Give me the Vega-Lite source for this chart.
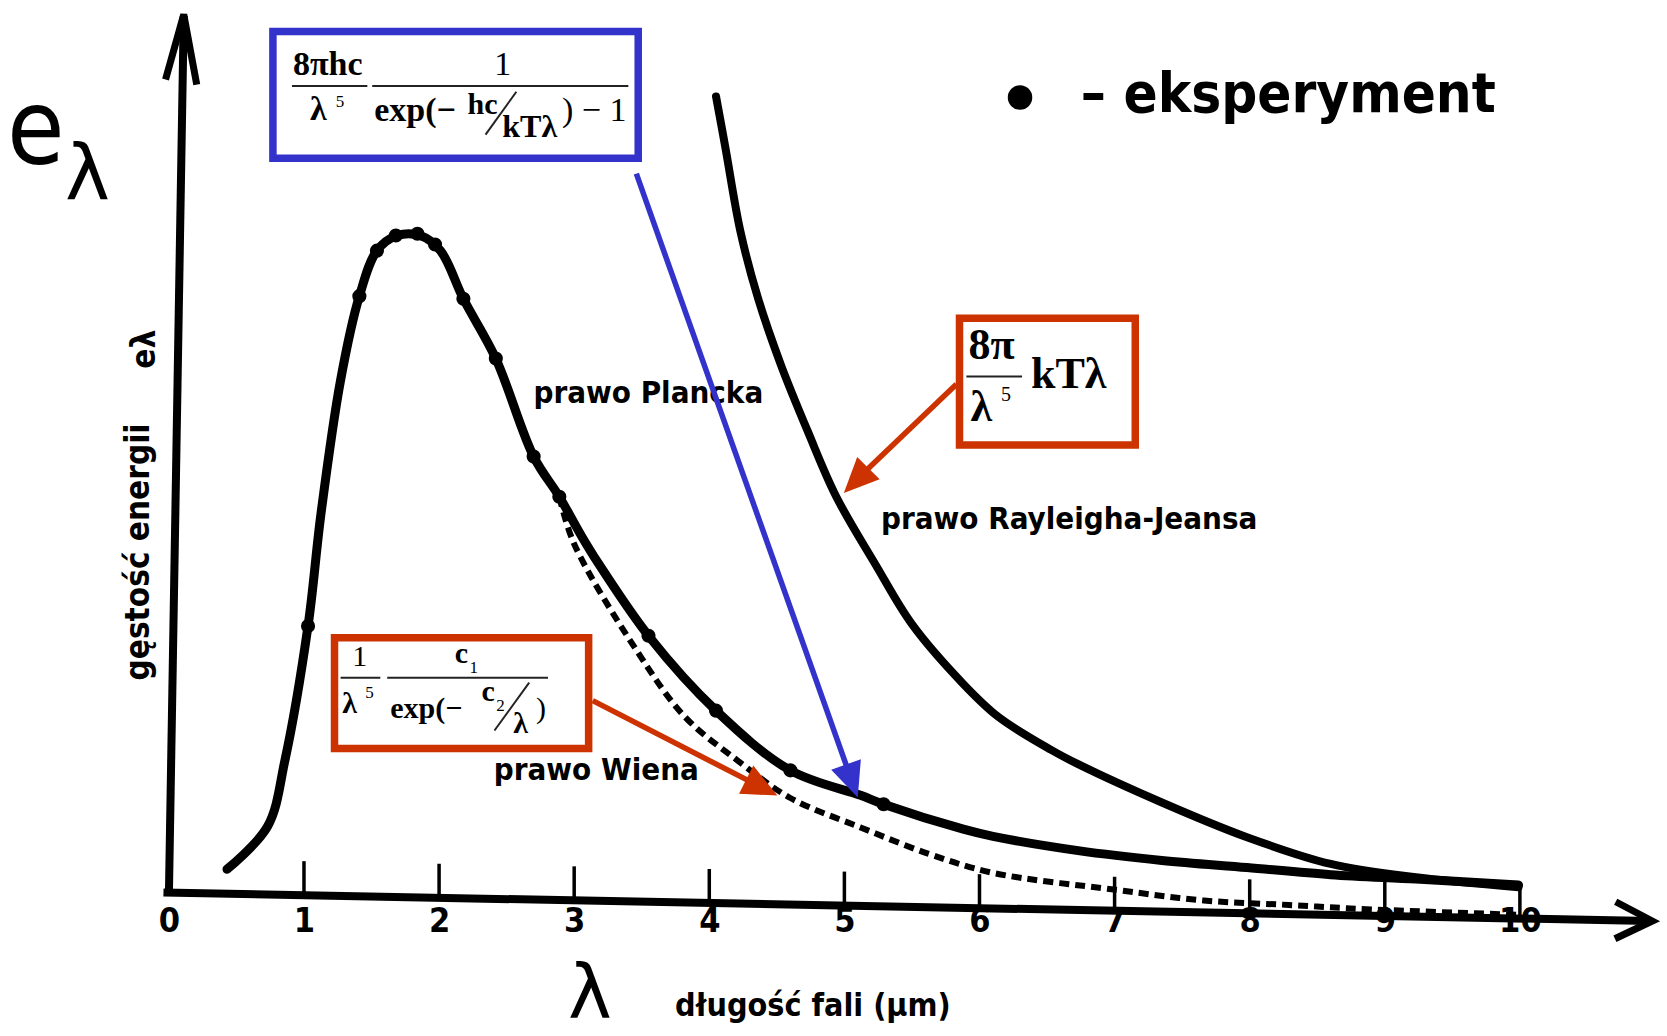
{
  "$schema": "https://vega.github.io/schema/vega-lite/v6.json",
  "width": 1667,
  "height": 1036,
  "autosize": {"type": "fit", "contains": "padding"},
  "padding": 0,
  "background": "white",
  "config": {"view": {"stroke": null}},
  "datasets": {
    "planck": [
      {"lam": 0.43, "e": 0.27}, {"lam": 0.73, "e": 0.75}, {"lam": 0.86, "e": 1.5}, {"lam": 1.03, "e": 3.0},
      {"lam": 1.125, "e": 4.25}, {"lam": 1.27, "e": 5.75}, {"lam": 1.41, "e": 6.7}, {"lam": 1.54, "e": 7.21},
      {"lam": 1.69, "e": 7.38}, {"lam": 1.86, "e": 7.38}, {"lam": 2.01, "e": 7.21}, {"lam": 2.18, "e": 6.67},
      {"lam": 2.42, "e": 6.0}, {"lam": 2.7, "e": 4.9}, {"lam": 2.89, "e": 4.45}, {"lam": 3.05, "e": 4.02},
      {"lam": 3.18, "e": 3.7}, {"lam": 3.56, "e": 2.87}, {"lam": 4.05, "e": 2.05}, {"lam": 4.6, "e": 1.38},
      {"lam": 5.12, "e": 1.1}, {"lam": 5.29, "e": 1.0}, {"lam": 5.88, "e": 0.72}, {"lam": 6.1, "e": 0.64},
      {"lam": 6.73, "e": 0.48}, {"lam": 7.35, "e": 0.37}, {"lam": 7.98, "e": 0.29}, {"lam": 8.6, "e": 0.21},
      {"lam": 9.23, "e": 0.16}, {"lam": 9.99, "e": 0.095}
    ],
    "experiment": [
      {"lam": 1.03, "e": 3.0}, {"lam": 1.41, "e": 6.7}, {"lam": 1.54, "e": 7.21}, {"lam": 1.68, "e": 7.38},
      {"lam": 1.84, "e": 7.4}, {"lam": 1.97, "e": 7.28}, {"lam": 2.18, "e": 6.67}, {"lam": 2.42, "e": 6.0},
      {"lam": 2.7, "e": 4.9}, {"lam": 2.89, "e": 4.45}, {"lam": 3.55, "e": 2.89}, {"lam": 4.05, "e": 2.05},
      {"lam": 4.6, "e": 1.38}, {"lam": 5.29, "e": 1.0}
    ],
    "wien": [
      {"lam": 2.89, "e": 4.45}, {"lam": 3.0, "e": 3.92}, {"lam": 3.46, "e": 2.73}, {"lam": 3.82, "e": 1.98},
      {"lam": 4.21, "e": 1.49}, {"lam": 4.6, "e": 1.07}, {"lam": 5.12, "e": 0.74}, {"lam": 5.63, "e": 0.44},
      {"lam": 6.1, "e": 0.23}, {"lam": 7.01, "e": 0.04}, {"lam": 7.66, "e": -0.08}, {"lam": 8.29, "e": -0.13},
      {"lam": 8.9, "e": -0.18}, {"lam": 9.99, "e": -0.24}
    ],
    "rj": [
      {"lam": 4.05, "e": 8.94}, {"lam": 4.12, "e": 8.36}, {"lam": 4.23, "e": 7.43}, {"lam": 4.36, "e": 6.68},
      {"lam": 4.53, "e": 5.93}, {"lam": 4.73, "e": 5.18}, {"lam": 4.94, "e": 4.45}, {"lam": 5.23, "e": 3.69},
      {"lam": 5.5, "e": 3.02}, {"lam": 5.88, "e": 2.35}, {"lam": 6.14, "e": 1.98}, {"lam": 6.53, "e": 1.61},
      {"lam": 6.73, "e": 1.45}, {"lam": 7.35, "e": 1.02}, {"lam": 7.98, "e": 0.63}, {"lam": 8.6, "e": 0.33},
      {"lam": 9.23, "e": 0.18}, {"lam": 9.99, "e": 0.07}
    ],
    "axes": [
      {"lam": -0.04, "e": 0.01, "lam2": 10.96, "e2": -0.31},
      {"lam": 0.0, "e": -0.03, "lam2": 0.11, "e2": 9.84}
    ],
    "xtip": [{"lam": 10.98, "e": -0.31}],
    "ytip": [{"lam": 0.11, "e": 9.86}],
    "ticks": [
      {"lam": 1, "e": -0.02}, {"lam": 2, "e": -0.049}, {"lam": 3, "e": -0.078}, {"lam": 4, "e": -0.108},
      {"lam": 5, "e": -0.137}, {"lam": 6, "e": -0.166}, {"lam": 7, "e": -0.195}, {"lam": 8, "e": -0.224},
      {"lam": 9, "e": -0.253}, {"lam": 10, "e": -0.282}
    ],
    "labels": [
      {"lam": 3.549, "e": 5.6, "t": "prawo Plancka"},
      {"lam": 6.664, "e": 4.189, "t": "prawo Rayleigha-Jeansa"},
      {"lam": 3.164, "e": 1.37, "t": "prawo Wiena"}
    ],
    "ylabel": [
      {"lam": -0.221, "e": 3.83, "t": "gęstość energii"},
      {"lam": -0.176, "e": 6.104, "t": "eλ"}
    ],
    "bigE": [{"lam": -0.985, "e": 8.186, "t": "e"}],
    "subLambda": [{"lam": -0.603, "e": 7.794, "t": "λ"}],
    "axisLambda": [{"lam": 3.116, "e": -1.399, "t": "λ"}],
    "xtitle": [{"lam": 3.747, "e": -1.376, "t": "długość fali (μm)"}],
    "legendDot": [{"lam": 6.3, "e": 8.929}],
    "legendText": [{"lam": 6.75, "e": 8.768, "t": "– eksperyment"}],
    "boxes": [
      {"law": "planck", "lam": 0.77, "e": 9.67, "lam2": 3.474, "e2": 8.248},
      {"law": "rj", "lam": 5.852, "e": 6.451, "lam2": 7.153, "e2": 5.029},
      {"law": "wien", "lam": 1.226, "e": 2.868, "lam2": 3.107, "e2": 1.625}
    ],
    "formula": [
      {"role": "b34", "lam": 0.918, "e": 9.183, "t": "8πhc"},
      {"role": "b34", "lam": 1.044, "e": 8.679, "t": "λ"},
      {"role": "b34", "lam": 1.52, "e": 8.668, "t": "exp(−"},
      {"role": "r34", "lam": 2.409, "e": 9.183, "t": "1"},
      {"role": "r34", "lam": 2.909, "e": 8.668, "t": ") − 1"},
      {"role": "b30", "lam": 1.284, "e": 2.028, "t": "λ"},
      {"role": "b30", "lam": 2.116, "e": 2.588, "t": "c"},
      {"role": "b30", "lam": 1.638, "e": 1.972, "t": "exp(−"},
      {"role": "b30", "lam": 2.314, "e": 2.162, "t": "c"},
      {"role": "b30", "lam": 2.549, "e": 1.804, "t": "λ"},
      {"role": "r30", "lam": 1.358, "e": 2.554, "t": "1"},
      {"role": "r30", "lam": 2.718, "e": 1.972, "t": ")"},
      {"role": "sup", "lam": 1.236, "e": 8.824, "t": "5"},
      {"role": "sup", "lam": 1.454, "e": 2.196, "t": "5"},
      {"role": "sup", "lam": 2.225, "e": 2.476, "t": "1"},
      {"role": "sup", "lam": 2.424, "e": 2.05, "t": "2"},
      {"role": "b30", "lam": 2.211, "e": 8.745, "t": "hc"},
      {"role": "b32", "lam": 2.468, "e": 8.488, "t": "kTλ"},
      {"role": "rj", "lam": 5.918, "e": 5.991, "t": "8π"},
      {"role": "rj", "lam": 5.933, "e": 5.297, "t": "λ"},
      {"role": "rj", "lam": 6.381, "e": 5.666, "t": "kTλ"},
      {"role": "rjsup", "lam": 6.16, "e": 5.52, "t": "5"}
    ],
    "fbars": [
      {"lam": 0.911, "e": 9.059, "lam2": 1.469, "e2": 9.059},
      {"lam": 1.505, "e": 9.059, "lam2": 3.401, "e2": 9.059},
      {"lam": 2.344, "e": 8.512, "lam2": 2.572, "e2": 8.993},
      {"lam": 5.903, "e": 5.799, "lam2": 6.315, "e2": 5.799},
      {"lam": 1.271, "e": 2.419, "lam2": 1.565, "e2": 2.419},
      {"lam": 1.616, "e": 2.419, "lam2": 2.806, "e2": 2.419},
      {"lam": 2.41, "e": 1.827, "lam2": 2.667, "e2": 2.364}
    ],
    "arrows": [
      {"law": "planck", "lam": 3.46, "e": 8.074, "lam2": 5.033, "e2": 1.356},
      {"law": "rj", "lam": 5.829, "e": 5.711, "lam2": 5.14, "e2": 4.714},
      {"law": "wien", "lam": 3.137, "e": 2.162, "lam2": 4.333, "e2": 1.231}
    ],
    "tips": [
      {"law": "planck", "lam": 5.099, "e": 1.076},
      {"law": "rj", "lam": 4.996, "e": 4.491},
      {"law": "wien", "lam": 4.504, "e": 1.098}
    ]
  },
  "encoding": {
    "x": {
      "field": "lam", "type": "quantitative", "title": null,
      "scale": {"domain": [-1.25, 11], "nice": false, "zero": false},
      "axis": {
        "values": [0, 1, 2, 3, 4, 5, 6, 7, 8, 9, 10],
        "domain": false, "ticks": false, "grid": false,
        "offset": -142.9, "labelPadding": 11, "labelBaseline": "top",
        "labelFont": "DejaVu Sans Condensed, DejaVu Sans", "labelFontSize": 34, "labelFontWeight": "bold",
        "labelColor": "black", "labelFlush": false, "labelOverlap": false, "labelAngle": 0,
        "encode": {"labels": {"update": {"dy": {"signal": "datum.value * 3"}}}}
      }
    },
    "y": {
      "field": "e", "type": "quantitative", "title": null,
      "scale": {"domain": [-1.6, 10], "nice": false, "zero": false},
      "axis": null
    }
  },
  "layer": [
    {
      "data": {"name": "wien"},
      "mark": {"type": "line", "color": "black", "strokeWidth": 6, "strokeDash": [10, 6], "interpolate": "catmull-rom"}
    },
    {
      "data": {"name": "rj"},
      "mark": {"type": "line", "color": "black", "strokeWidth": 8, "interpolate": "catmull-rom", "strokeCap": "round"}
    },
    {
      "data": {"name": "planck"},
      "mark": {"type": "line", "color": "black", "strokeWidth": 9, "interpolate": "catmull-rom", "strokeCap": "round"}
    },
    {
      "data": {"name": "experiment"},
      "mark": {"type": "point", "shape": "circle", "filled": true, "color": "black", "size": 200, "opacity": 1}
    },
    {
      "data": {"name": "axes"},
      "mark": {"type": "rule", "color": "black", "strokeWidth": 8, "strokeCap": "butt"},
      "encoding": {"x2": {"field": "lam2"}, "y2": {"field": "e2"}}
    },
    {
      "data": {"name": "ticks"},
      "mark": {"type": "point", "shape": "M 0 0 L 0 -1", "filled": false, "stroke": "black", "strokeWidth": 3.5, "size": 4624, "opacity": 1}
    },
    {
      "data": {"name": "xtip"},
      "mark": {"type": "point", "shape": "M -1 -0.5 L 0 0 L -1 0.5", "filled": false, "stroke": "black", "strokeWidth": 7, "size": 5476, "angle": 1.2, "opacity": 1, "strokeJoin": "miter"}
    },
    {
      "data": {"name": "ytip"},
      "mark": {"type": "point", "shape": "M -0.28 1 L 0 0 L 0.2 1.08", "filled": false, "stroke": "black", "strokeWidth": 7, "size": 16900, "opacity": 1, "strokeJoin": "miter"}
    },
    {
      "data": {"name": "labels"},
      "mark": {"type": "text", "font": "DejaVu Sans Condensed, DejaVu Sans", "fontSize": 31, "fontWeight": "bold", "align": "center", "baseline": "middle", "color": "black"},
      "encoding": {"text": {"field": "t"}}
    },
    {
      "data": {"name": "ylabel"},
      "mark": {"type": "text", "font": "DejaVu Sans Condensed, DejaVu Sans", "fontSize": 33, "fontWeight": "bold", "align": "center", "baseline": "middle", "angle": 270, "color": "black"},
      "encoding": {"text": {"field": "t"}}
    },
    {
      "data": {"name": "bigE"},
      "mark": {"type": "text", "font": "DejaVu Sans Condensed, DejaVu Sans", "fontSize": 104, "align": "center", "baseline": "alphabetic", "color": "black"},
      "encoding": {"text": {"field": "t"}}
    },
    {
      "data": {"name": "subLambda"},
      "mark": {"type": "text", "font": "DejaVu Sans", "fontSize": 76, "align": "center", "baseline": "alphabetic", "color": "black"},
      "encoding": {"text": {"field": "t"}}
    },
    {
      "data": {"name": "axisLambda"},
      "mark": {"type": "text", "font": "DejaVu Sans", "fontSize": 74, "align": "center", "baseline": "alphabetic", "color": "black"},
      "encoding": {"text": {"field": "t"}}
    },
    {
      "data": {"name": "xtitle"},
      "mark": {"type": "text", "font": "DejaVu Sans Condensed, DejaVu Sans", "fontSize": 32, "fontWeight": "bold", "align": "left", "baseline": "alphabetic", "color": "black"},
      "encoding": {"text": {"field": "t"}}
    },
    {
      "data": {"name": "legendDot"},
      "mark": {"type": "point", "shape": "circle", "filled": true, "color": "black", "size": 600, "opacity": 1}
    },
    {
      "data": {"name": "legendText"},
      "mark": {"type": "text", "font": "DejaVu Sans Condensed, DejaVu Sans", "fontSize": 56, "fontWeight": "bold", "align": "left", "baseline": "alphabetic", "color": "black"},
      "encoding": {"text": {"field": "t"}}
    },
    {
      "data": {"name": "boxes"},
      "mark": {"type": "rect", "fill": "white", "strokeWidth": 7.5},
      "encoding": {
        "x2": {"field": "lam2"}, "y2": {"field": "e2"},
        "stroke": {"field": "law", "type": "nominal", "legend": null, "scale": {"domain": ["planck", "rj", "wien"], "range": ["#3333cc", "#cc3300", "#cc3300"]}}
      }
    },
    {
      "data": {"name": "fbars"},
      "mark": {"type": "rule", "color": "#222222", "strokeWidth": 2},
      "encoding": {"x2": {"field": "lam2"}, "y2": {"field": "e2"}}
    },
    {
      "data": {"name": "formula"},
      "transform": [{"filter": "datum.role === 'b34'"}],
      "mark": {"type": "text", "font": "Liberation Serif", "fontSize": 34, "fontWeight": "bold", "align": "left", "baseline": "alphabetic", "color": "black"},
      "encoding": {"text": {"field": "t"}}
    },
    {
      "data": {"name": "formula"},
      "transform": [{"filter": "datum.role === 'r34'"}],
      "mark": {"type": "text", "font": "Liberation Serif", "fontSize": 34, "align": "left", "baseline": "alphabetic", "color": "black"},
      "encoding": {"text": {"field": "t"}}
    },
    {
      "data": {"name": "formula"},
      "transform": [{"filter": "datum.role === 'b32'"}],
      "mark": {"type": "text", "font": "Liberation Serif", "fontSize": 32, "fontWeight": "bold", "align": "left", "baseline": "alphabetic", "color": "black"},
      "encoding": {"text": {"field": "t"}}
    },
    {
      "data": {"name": "formula"},
      "transform": [{"filter": "datum.role === 'b30'"}],
      "mark": {"type": "text", "font": "Liberation Serif", "fontSize": 30, "fontWeight": "bold", "align": "left", "baseline": "alphabetic", "color": "black"},
      "encoding": {"text": {"field": "t"}}
    },
    {
      "data": {"name": "formula"},
      "transform": [{"filter": "datum.role === 'r30'"}],
      "mark": {"type": "text", "font": "Liberation Serif", "fontSize": 30, "align": "left", "baseline": "alphabetic", "color": "black"},
      "encoding": {"text": {"field": "t"}}
    },
    {
      "data": {"name": "formula"},
      "transform": [{"filter": "datum.role === 'sup'"}],
      "mark": {"type": "text", "font": "Liberation Serif", "fontSize": 17, "align": "left", "baseline": "alphabetic", "color": "black"},
      "encoding": {"text": {"field": "t"}}
    },
    {
      "data": {"name": "formula"},
      "transform": [{"filter": "datum.role === 'rj'"}],
      "mark": {"type": "text", "font": "Liberation Serif", "fontSize": 44, "fontWeight": "bold", "align": "left", "baseline": "alphabetic", "color": "black"},
      "encoding": {"text": {"field": "t"}}
    },
    {
      "data": {"name": "formula"},
      "transform": [{"filter": "datum.role === 'rjsup'"}],
      "mark": {"type": "text", "font": "Liberation Serif", "fontSize": 20, "align": "left", "baseline": "alphabetic", "color": "black"},
      "encoding": {"text": {"field": "t"}}
    },
    {
      "data": {"name": "arrows"},
      "mark": {"type": "rule", "strokeWidth": 5.5},
      "encoding": {
        "x2": {"field": "lam2"}, "y2": {"field": "e2"},
        "color": {"field": "law", "type": "nominal", "legend": null, "scale": {"domain": ["planck", "rj", "wien"], "range": ["#3333cc", "#cc3300", "#cc3300"]}}
      }
    },
    {
      "data": {"name": "tips"},
      "transform": [{"filter": "datum.law === 'planck'"}],
      "mark": {"type": "point", "shape": "M 0 0 L -0.45 -1 L 0.45 -1 Z", "filled": true, "color": "#3333cc", "size": 4900, "angle": 340.4, "opacity": 1}
    },
    {
      "data": {"name": "tips"},
      "transform": [{"filter": "datum.law === 'rj'"}],
      "mark": {"type": "point", "shape": "M 0 0 L -0.45 -1 L 0.45 -1 Z", "filled": true, "color": "#cc3300", "size": 4900, "angle": 44.6, "opacity": 1}
    },
    {
      "data": {"name": "tips"},
      "transform": [{"filter": "datum.law === 'wien'"}],
      "mark": {"type": "point", "shape": "M 0 0 L -0.45 -1 L 0.45 -1 Z", "filled": true, "color": "#cc3300", "size": 4900, "angle": 296.9, "opacity": 1}
    }
  ]
}
